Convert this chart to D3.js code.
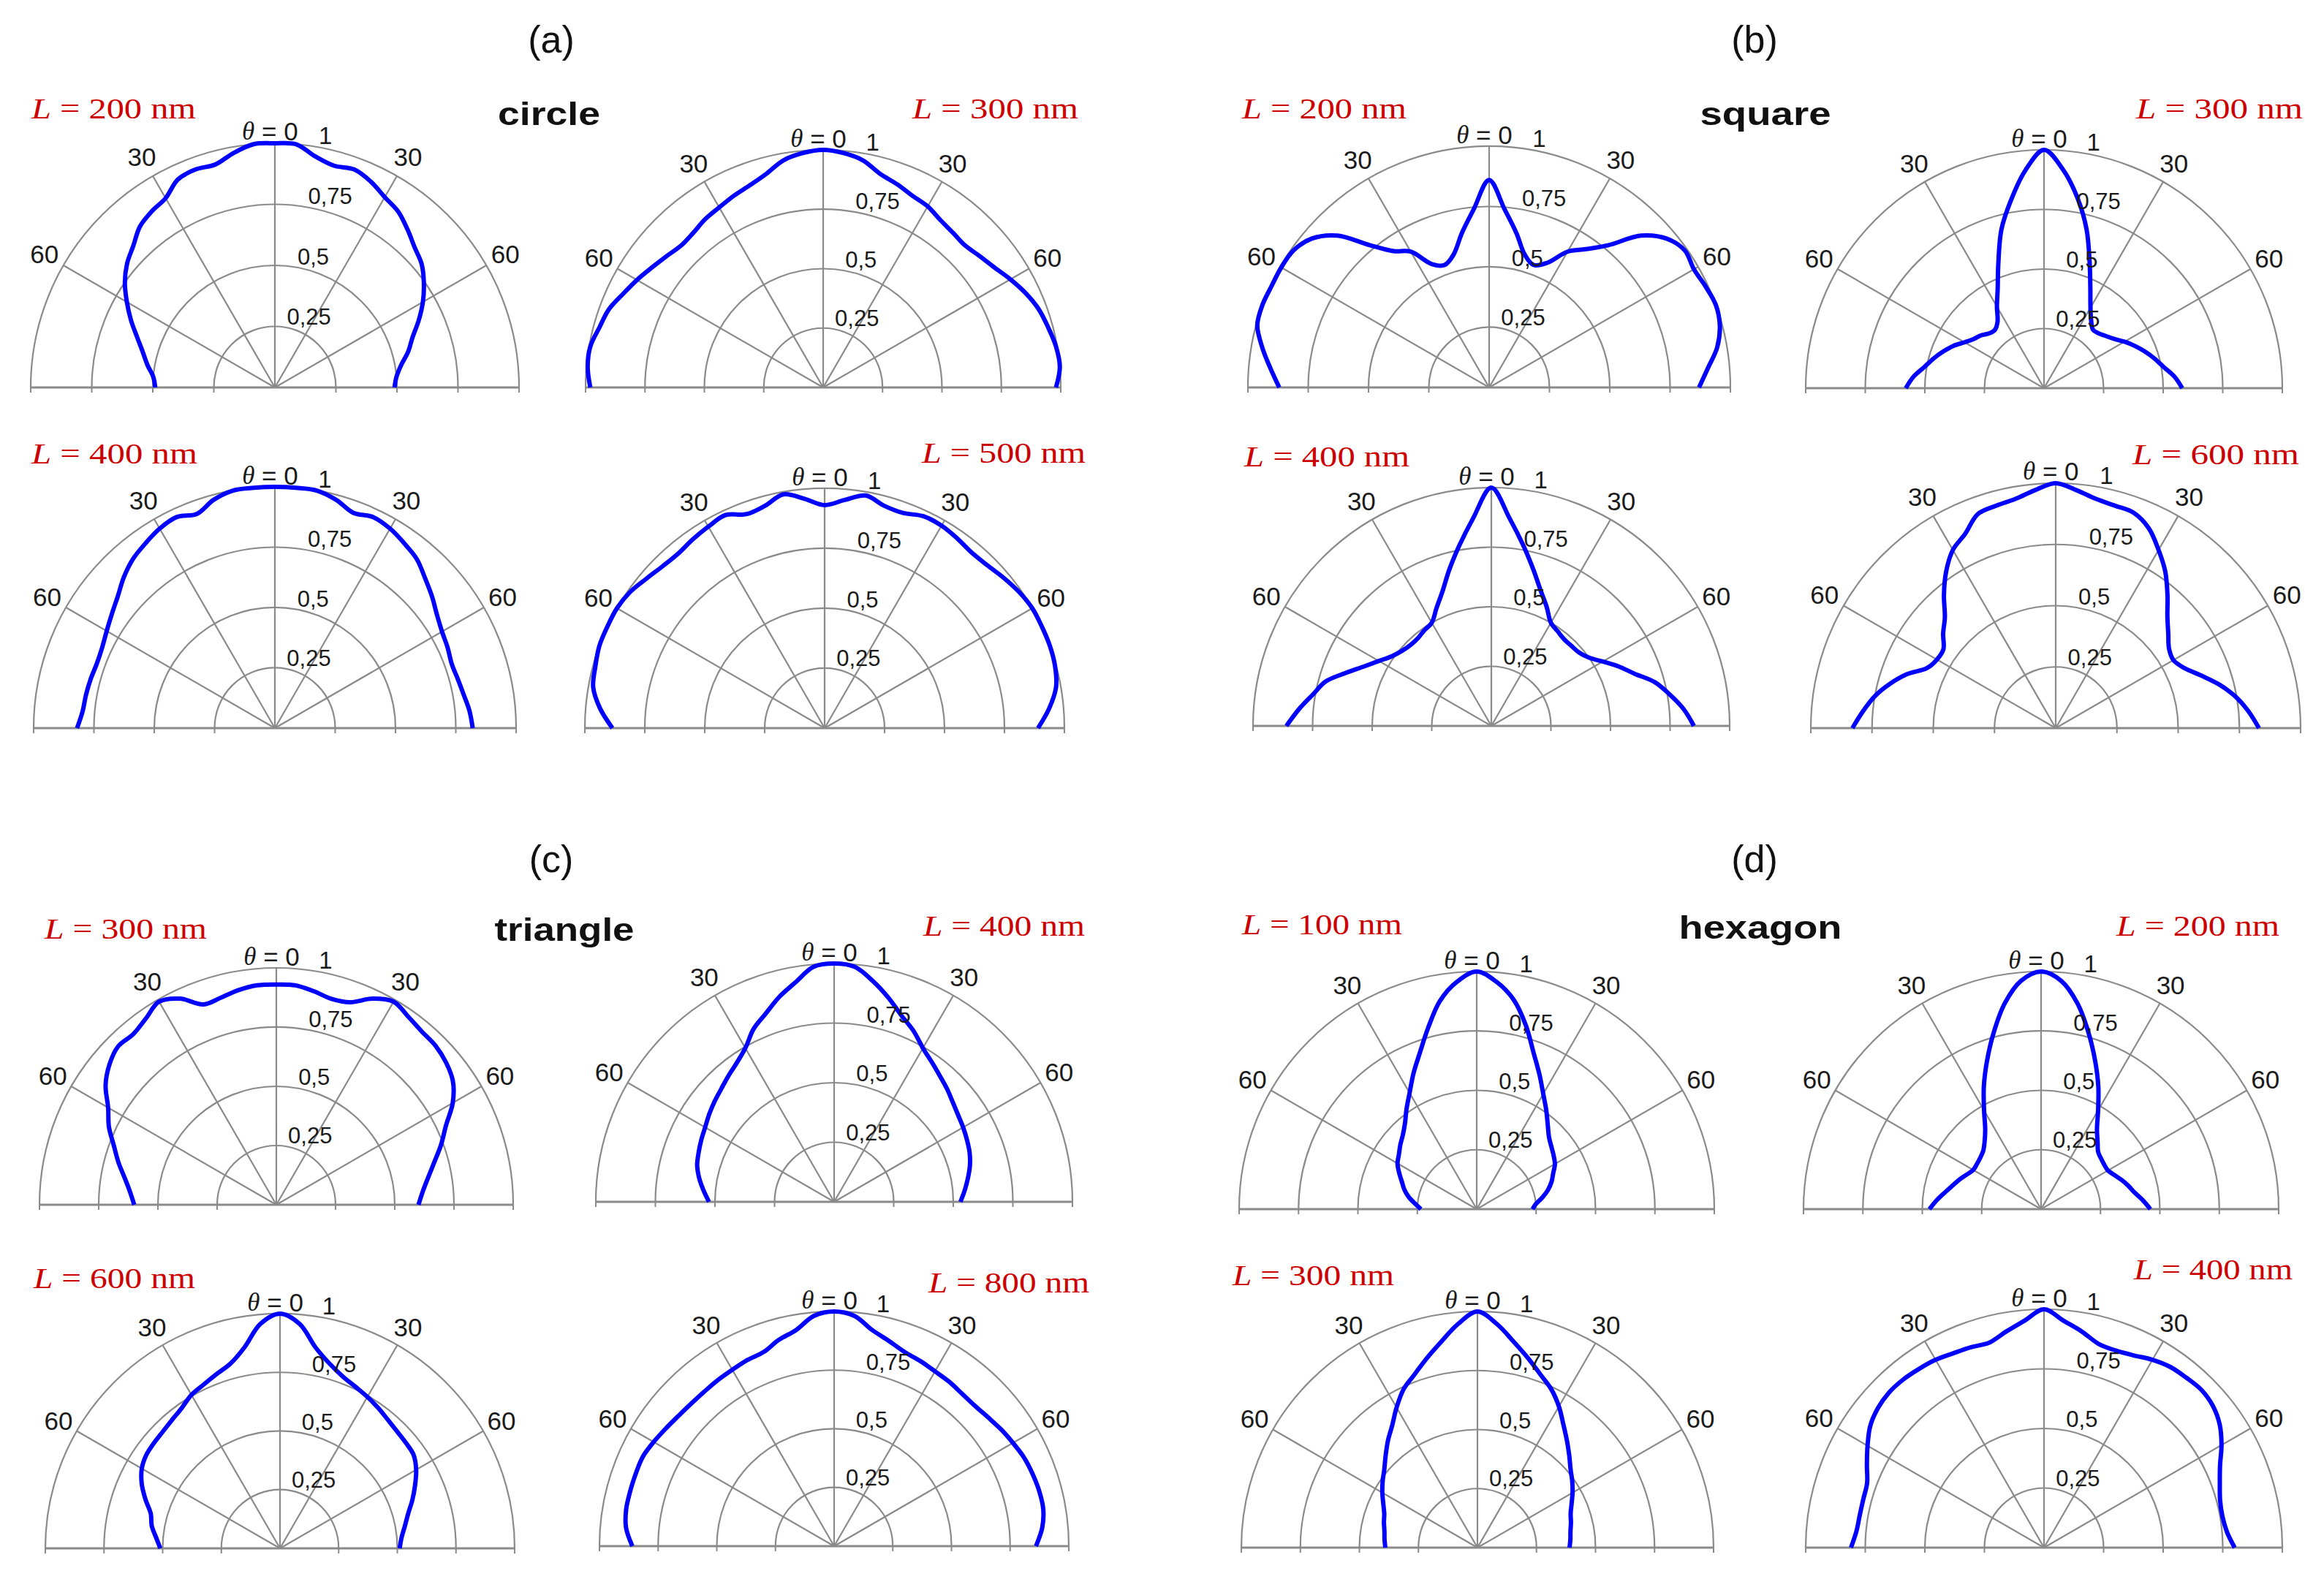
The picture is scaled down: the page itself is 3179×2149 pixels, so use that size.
<!DOCTYPE html>
<html>
<head>
<meta charset="utf-8">
<script src="https://cdn.jsdelivr.net/npm/d3@7"></script>
<style>
  body { margin: 0; background: #fff; }
  svg { font-family: "Liberation Sans", Arial, sans-serif; }
</style>
</head>
<body>
<svg id="chart" width="3179" height="2149"></svg>
<script>
// polar angle (deg from the normal, clockwise), one reading every 5 degrees
const angles = [-90, -85, -80, -75, -70, -65, -60, -55, -50, -45, -40, -35, -30, -25, -20, -15, -10, -5,
  0, 5, 10, 15, 20, 25, 30, 35, 40, 45, 50, 55, 60, 65, 70, 75, 80, 85, 90];

// normalised radiation intensity
const rCircle200 = [0.49, 0.50, 0.53, 0.56, 0.60, 0.65, 0.70, 0.75, 0.79, 0.82, 0.86, 0.88, 0.895, 0.94, 0.95, 0.945, 0.975, 1.0,
  1.0, 1.0, 0.96, 0.94, 0.95, 0.93, 0.90, 0.88, 0.845, 0.81, 0.785, 0.745, 0.70, 0.65, 0.60, 0.565, 0.525, 0.50, 0.49];
const rCircle300 = [0.98, 0.995, 0.995, 0.975, 0.96, 0.93, 0.905, 0.88, 0.86, 0.845, 0.85, 0.865, 0.875, 0.89, 0.905, 0.93, 0.97, 0.99,
  1.0, 0.99, 0.97, 0.93, 0.91, 0.89, 0.88, 0.86, 0.85, 0.845, 0.86, 0.88, 0.91, 0.94, 0.965, 0.98, 0.995, 1.0, 0.98];
const rCircle400 = [0.82, 0.80, 0.795, 0.79, 0.785, 0.79, 0.805, 0.825, 0.85, 0.885, 0.915, 0.935, 0.955, 0.965, 0.945, 0.98, 1.0, 1.0,
  1.0, 1.0, 1.0, 0.98, 0.95, 0.965, 0.955, 0.935, 0.915, 0.88, 0.85, 0.82, 0.80, 0.79, 0.78, 0.785, 0.795, 0.81, 0.82];
const rCircle500 = [0.885, 0.94, 0.98, 0.99, 1.0, 1.0, 1.0, 0.99, 0.97, 0.955, 0.95, 0.96, 0.97, 0.98, 0.95, 0.96, 0.99, 0.96,
  0.93, 0.955, 0.985, 0.96, 0.955, 0.975, 0.975, 0.965, 0.955, 0.96, 0.975, 0.99, 1.0, 1.0, 1.0, 0.995, 0.98, 0.94, 0.89];

const rSquare200 = [0.87, 0.91, 0.955, 0.995, 1.0, 0.995, 0.995, 0.99, 0.96, 0.89, 0.77, 0.69, 0.65, 0.565, 0.54, 0.57, 0.65, 0.74,
  0.86, 0.74, 0.65, 0.57, 0.54, 0.57, 0.65, 0.70, 0.77, 0.89, 0.96, 0.99, 0.98, 0.99, 1.0, 0.99, 0.96, 0.91, 0.87];
const rSquare300 = [0.58, 0.55, 0.51, 0.48, 0.45, 0.42, 0.385, 0.36, 0.345, 0.325, 0.32, 0.34, 0.395, 0.46, 0.56, 0.69, 0.80, 0.915,
  1.0, 0.92, 0.81, 0.69, 0.56, 0.46, 0.39, 0.345, 0.32, 0.325, 0.34, 0.36, 0.39, 0.42, 0.45, 0.48, 0.51, 0.55, 0.58];
const rSquare400 = [0.86, 0.81, 0.76, 0.72, 0.65, 0.59, 0.545, 0.51, 0.49, 0.48, 0.48, 0.49, 0.50, 0.545, 0.60, 0.68, 0.77, 0.875,
  1.0, 0.875, 0.77, 0.68, 0.605, 0.55, 0.50, 0.485, 0.475, 0.475, 0.48, 0.50, 0.54, 0.59, 0.64, 0.71, 0.76, 0.81, 0.85];
const rSquare600 = [0.83, 0.79, 0.75, 0.70, 0.645, 0.58, 0.56, 0.56, 0.60, 0.64, 0.71, 0.78, 0.84, 0.875, 0.93, 0.94, 0.95, 0.975,
  1.0, 0.975, 0.95, 0.94, 0.935, 0.90, 0.84, 0.78, 0.71, 0.645, 0.60, 0.565, 0.555, 0.58, 0.63, 0.69, 0.745, 0.79, 0.83];

const rTriangle300 = [0.60, 0.62, 0.65, 0.69, 0.73, 0.78, 0.82, 0.88, 0.92, 0.945, 0.94, 0.96, 0.99, 0.96, 0.90, 0.905, 0.92, 0.93,
  0.93, 0.93, 0.915, 0.90, 0.91, 0.96, 0.99, 0.97, 0.955, 0.95, 0.935, 0.91, 0.86, 0.79, 0.74, 0.69, 0.65, 0.62, 0.60];
const rTriangle400 = [0.525, 0.55, 0.575, 0.595, 0.605, 0.615, 0.625, 0.64, 0.655, 0.67, 0.69, 0.712, 0.745, 0.80, 0.84, 0.89, 0.935, 0.99,
  1.0, 0.99, 0.94, 0.885, 0.83, 0.79, 0.745, 0.715, 0.69, 0.67, 0.65, 0.635, 0.625, 0.615, 0.605, 0.59, 0.57, 0.55, 0.53];
const rTriangle600 = [0.51, 0.53, 0.555, 0.57, 0.61, 0.65, 0.68, 0.695, 0.70, 0.705, 0.715, 0.73, 0.755, 0.77, 0.79, 0.815, 0.87, 0.96,
  1.0, 0.96, 0.87, 0.815, 0.78, 0.76, 0.745, 0.73, 0.715, 0.705, 0.70, 0.695, 0.67, 0.635, 0.60, 0.565, 0.54, 0.52, 0.51];
const rTriangle800 = [0.86, 0.89, 0.90, 0.90, 0.90, 0.90, 0.888, 0.875, 0.865, 0.86, 0.86, 0.864, 0.868, 0.875, 0.88, 0.91, 0.935, 0.985,
  1.0, 0.985, 0.935, 0.905, 0.88, 0.87, 0.86, 0.855, 0.848, 0.847, 0.855, 0.868, 0.88, 0.893, 0.90, 0.905, 0.905, 0.89, 0.86];

const rHexagon100 = [0.235, 0.26, 0.29, 0.315, 0.335, 0.36, 0.385, 0.40, 0.42, 0.44, 0.47, 0.515, 0.565, 0.63, 0.70, 0.79, 0.89, 0.96,
  1.0, 0.96, 0.895, 0.80, 0.70, 0.625, 0.56, 0.51, 0.465, 0.43, 0.41, 0.395, 0.38, 0.355, 0.335, 0.31, 0.28, 0.25, 0.235];
const rHexagon200 = [0.47, 0.44, 0.41, 0.385, 0.365, 0.345, 0.33, 0.33, 0.335, 0.345, 0.37, 0.41, 0.48, 0.57, 0.665, 0.77, 0.88, 0.965,
  1.0, 0.965, 0.88, 0.77, 0.665, 0.57, 0.48, 0.41, 0.37, 0.34, 0.33, 0.325, 0.325, 0.34, 0.36, 0.38, 0.40, 0.43, 0.46];
const rHexagon300 = [0.39, 0.395, 0.40, 0.41, 0.42, 0.44, 0.465, 0.49, 0.515, 0.55, 0.59, 0.63, 0.685, 0.74, 0.78, 0.83, 0.885, 0.95,
  1.0, 0.95, 0.885, 0.83, 0.78, 0.74, 0.69, 0.635, 0.59, 0.55, 0.515, 0.49, 0.465, 0.44, 0.42, 0.41, 0.40, 0.395, 0.39];
const rHexagon400 = [0.81, 0.79, 0.785, 0.785, 0.79, 0.82, 0.855, 0.89, 0.91, 0.92, 0.92, 0.915, 0.91, 0.90, 0.895, 0.89, 0.92, 0.955,
  1.0, 0.955, 0.92, 0.885, 0.88, 0.89, 0.91, 0.925, 0.93, 0.935, 0.925, 0.90, 0.86, 0.815, 0.785, 0.765, 0.76, 0.77, 0.80];

const panelLetters = ["(a)", "(b)", "(c)", "(d)"];
const shapeNames = ["circle", "square", "triangle", "hexagon"];
const sizeLabels = [[200, 300, 400, 500], [200, 300, 400, 600], [300, 400, 600, 800], [100, 200, 300, 400]];
const seriesByPanel = [
  [rCircle200, rCircle300, rCircle400, rCircle500],
  [rSquare200, rSquare300, rSquare400, rSquare600],
  [rTriangle300, rTriangle400, rTriangle600, rTriangle800],
  [rHexagon100, rHexagon200, rHexagon300, rHexagon400]
];

const ringTicks = [0.25, 0.5, 0.75, 1];
const ringLabels = ["0,25", "0,5", "0,75", "1"];
const spokeAngles = [-60, -30, 0, 30, 60];
const angleTicks = [-60, -30, 30, 60];

// ---- layout (pixels) ----
const panelTitles = [
  { x: 754, y: 72, sx: 751, sy: 171, sw: 140 },
  { x: 2400, y: 72, sx: 2415, sy: 171, sw: 179 },
  { x: 754, y: 1193, sx: 772, sy: 1287, sw: 191 },
  { x: 2400, y: 1193, sx: 2408, sy: 1284, sw: 223 }
];
// plot frames: centre, radius, size label position/width
const frames = [
  [{ cx: 376, cy: 530, R: 334, lx: 43, ly: 162, lw: 225 }, { cx: 1126, cy: 530, R: 325, lx: 1248, ly: 162, lw: 227 },
   { cx: 376, cy: 996, R: 330, lx: 43, ly: 634, lw: 227 }, { cx: 1128, cy: 996, R: 328, lx: 1261, ly: 633, lw: 224 }],
  [{ cx: 2037, cy: 530, R: 330, lx: 1699, ly: 162, lw: 225 }, { cx: 2796, cy: 531, R: 326, lx: 2922, ly: 162, lw: 228 },
   { cx: 2040, cy: 993, R: 326, lx: 1702, ly: 638, lw: 226 }, { cx: 2812, cy: 996, R: 335, lx: 2917, ly: 635, lw: 228 }],
  [{ cx: 378, cy: 1648, R: 324, lx: 61, ly: 1284, lw: 222 }, { cx: 1141, cy: 1644, R: 326, lx: 1263, ly: 1280, lw: 221 },
   { cx: 383, cy: 2118, R: 321, lx: 46, ly: 1762, lw: 221 }, { cx: 1141, cy: 2115, R: 321, lx: 1270, ly: 1768, lw: 220 }],
  [{ cx: 2020, cy: 1654, R: 325, lx: 1699, ly: 1278, lw: 219 }, { cx: 2792, cy: 1654, R: 325, lx: 2895, ly: 1280, lw: 223 },
   { cx: 2021, cy: 2117, R: 323, lx: 1686, ly: 1758, lw: 221 }, { cx: 2796, cy: 2117, R: 326, lx: 2919, ly: 1750, lw: 217 }]
];

const gridColor = "#8a8a8a";
const curveColor = "#0000ff";
const labelRed = "#cc0000";
const serif = "'Liberation Serif', 'Times New Roman', serif";

const svg = d3.select("#chart");

function drawPolar(g, f, values) {
  const r = d3.scaleLinear().domain([0, 1]).range([0, f.R]);
  const a = d3.scaleLinear().domain([-90, 90]).range([-Math.PI / 2, Math.PI / 2]);
  const arc = d3.arc();

  // rings
  g.selectAll("path.ring").data(ringTicks).join("path")
    .attr("class", "ring")
    .attr("d", t => arc({ innerRadius: r(t), outerRadius: r(t), startAngle: a(-90), endAngle: a(90) }))
    .attr("fill", "none").attr("stroke", gridColor).attr("stroke-width", 2.2);

  // spokes
  g.selectAll("line.spoke").data(spokeAngles).join("line")
    .attr("class", "spoke")
    .attr("x1", 0).attr("y1", 0)
    .attr("x2", d => d3.pointRadial(a(d), r(1))[0])
    .attr("y2", d => d3.pointRadial(a(d), r(1))[1])
    .attr("stroke", gridColor).attr("stroke-width", 2.2);

  // base line + small ticks where the rings meet it
  g.append("line")
    .attr("x1", -r(1)).attr("x2", r(1)).attr("y1", 0).attr("y2", 0)
    .attr("stroke", gridColor).attr("stroke-width", 3);
  const tickPos = ringTicks.flatMap(t => [-t, t]);
  g.selectAll("line.btick").data(tickPos).join("line")
    .attr("class", "btick")
    .attr("x1", d => r(Math.abs(d)) * Math.sign(d)).attr("x2", d => r(Math.abs(d)) * Math.sign(d))
    .attr("y1", 0).attr("y2", 7)
    .attr("stroke", gridColor).attr("stroke-width", 2);

  // data curve
  const line = d3.lineRadial()
    .angle((d, i) => a(angles[i]))
    .radius(d => r(d))
    .curve(d3.curveCatmullRom.alpha(0.5));
  g.append("path")
    .attr("d", line(values))
    .attr("fill", "none").attr("stroke", curveColor)
    .attr("stroke-width", 6).attr("stroke-linejoin", "round");

  // angle labels
  g.selectAll("text.ang").data(angleTicks).join("text")
    .attr("class", "ang")
    .attr("x", d => d3.pointRadial(a(d), r(1.09))[0])
    .attr("y", d => d3.pointRadial(a(d), r(1.09))[1])
    .attr("text-anchor", "middle").attr("dominant-baseline", "central")
    .attr("font-size", 35).attr("fill", "#1a1a1a")
    .text(d => Math.abs(d));

  // radial labels along 10 deg
  g.selectAll("text.rad").data(ringTicks).join("text")
    .attr("class", "rad")
    .attr("x", d => d3.pointRadial(a(10), r(d))[0] + 2)
    .attr("y", d => d3.pointRadial(a(10), r(d))[1] - 4)
    .attr("font-size", d => d === 1 ? 33 : 31).attr("fill", "#1a1a1a")
    .text((d, i) => ringLabels[i]);

  // theta = 0
  const th = g.append("text")
    .attr("x", -r(0.02)).attr("y", -r(1.05))
    .attr("text-anchor", "middle").attr("dominant-baseline", "central")
    .attr("font-size", 35).attr("fill", "#1a1a1a");
  th.append("tspan").attr("font-style", "italic").style("font-family", serif).text("θ");
  th.append("tspan").text(" = 0");
}

panelLetters.forEach((letter, p) => {
  const t = panelTitles[p];
  svg.append("text")
    .attr("x", t.x).attr("y", t.y)
    .attr("text-anchor", "middle")
    .attr("font-size", 52).attr("fill", "#111")
    .text(letter);
  svg.append("text")
    .attr("x", t.sx).attr("y", t.sy)
    .attr("text-anchor", "middle")
    .attr("font-size", 44).attr("font-weight", "bold").attr("fill", "#111")
    .attr("textLength", t.sw).attr("lengthAdjust", "spacingAndGlyphs")
    .text(shapeNames[p]);

  seriesByPanel[p].forEach((values, k) => {
    const f = frames[p][k];
    const g = svg.append("g").attr("transform", `translate(${f.cx},${f.cy})`);
    drawPolar(g, f, values);

    const lab = svg.append("text")
      .attr("x", f.lx).attr("y", f.ly)
      .style("font-family", serif)
      .attr("font-size", 40).attr("fill", labelRed)
      .attr("textLength", f.lw).attr("lengthAdjust", "spacingAndGlyphs");
    lab.append("tspan").attr("font-style", "italic").text("L");
    lab.append("tspan").text(` = ${sizeLabels[p][k]} nm`);
  });
});
</script>
</body>
</html>
